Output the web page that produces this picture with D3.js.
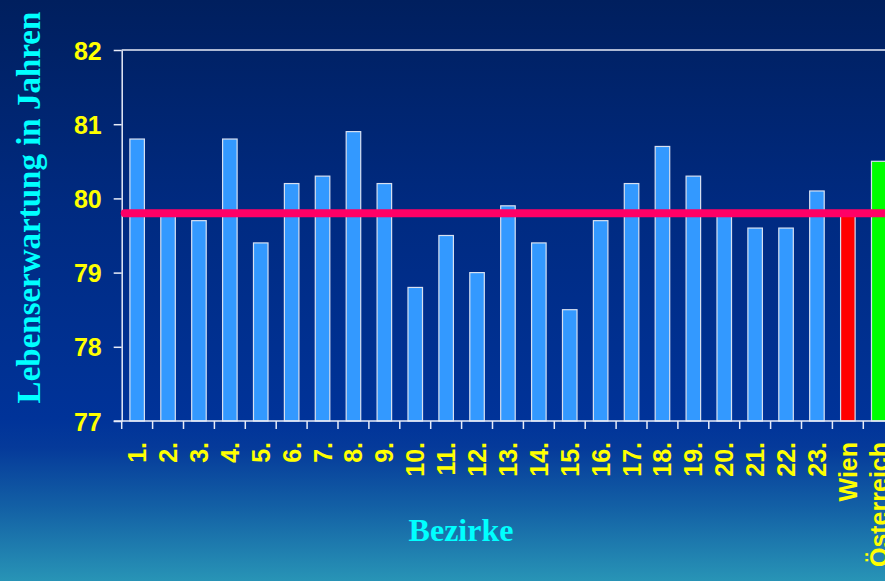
<!DOCTYPE html>
<html>
<head>
<meta charset="utf-8">
<script src="https://cdn.jsdelivr.net/npm/d3@7/dist/d3.min.js"></script>
<style>
html,body{margin:0;padding:0;overflow:hidden;background:#002060;}
svg{display:block;}
</style>
</head>
<body>
<svg id="chart" width="885" height="581"></svg>
<script>
const categories = ["1.","2.","3.","4.","5.","6.","7.","8.","9.","10.","11.","12.","13.","14.","15.","16.","17.","18.","19.","20.","21.","22.","23.","Wien","Österreich"];
const values = [80.8,79.8,79.7,80.8,79.4,80.2,80.3,80.9,80.2,78.8,79.5,79.0,79.9,79.4,78.5,79.7,80.2,80.7,80.3,79.8,79.6,79.6,80.1,79.8,80.5];
const yTicks = [77,78,79,80,81,82];
const referenceValue = 79.8; // Wien
const yTitle = "Lebenserwartung in Jahren";
const xTitle = "Bezirke";

(function(){
const W = 885, H = 581;
const mLeft = 121.7, mTop = 50, mBottom = 421;
const step = 30.9;
const svg = d3.select("#chart");

// background gradient
const defs = svg.append("defs");
const grad = defs.append("linearGradient").attr("id","bg").attr("x1",0).attr("y1",0).attr("x2",0).attr("y2",1);
[[0,"#001f5e"],[0.35,"#002a80"],[0.72,"#003399"],[0.77,"#053a9a"],[0.88,"#1463a6"],[1,"#2894b6"]]
  .forEach(([o,c])=>grad.append("stop").attr("offset",o).attr("stop-color",c));
svg.append("rect").attr("width",W).attr("height",H).attr("fill","url(#bg)");

const x = d3.scaleBand().domain(categories)
  .range([mLeft, mLeft + step*categories.length])
  .paddingInner(0.53).paddingOuter(0.265);
const y = d3.scaleLinear().domain([77,82]).range([mBottom, mTop]);

const axisColor = "#e8ecf8";

// top border line
svg.append("line").attr("x1",mLeft).attr("x2",W).attr("y1",y(82)).attr("y2",y(82))
  .attr("stroke",axisColor).attr("stroke-width",1.5);

// bars
const barColor = (c)=> c==="Wien" ? "#ff0000" : (c==="Österreich" ? "#00ff00" : "#3399ff");
svg.append("g").selectAll("rect").data(categories).join("rect")
  .attr("x", c=>x(c))
  .attr("y", (c,i)=>y(values[i]))
  .attr("width", x.bandwidth())
  .attr("height", (c,i)=>y(77)-y(values[i]))
  .attr("fill", barColor)
  .attr("stroke","#d8e0f0").attr("stroke-width",1.2);

// y axis
const yAxis = svg.append("g").attr("transform",`translate(${mLeft},0)`)
  .call(d3.axisLeft(y).tickValues(yTicks).tickFormat(d3.format("d")).tickSize(8).tickSizeOuter(0).tickPadding(12));
yAxis.select(".domain").attr("stroke",axisColor).attr("stroke-width",1.5);
yAxis.selectAll(".tick line").attr("stroke",axisColor).attr("stroke-width",1.5);
yAxis.selectAll(".tick text").attr("fill","#ffff00")
  .style("font-family","'Liberation Sans', Arial, sans-serif").style("font-weight","bold").style("font-size","25px")
  .attr("dy","0.36em");

// x axis baseline + boundary ticks
svg.append("line").attr("x1",mLeft-8).attr("x2",W).attr("y1",mBottom).attr("y2",mBottom)
  .attr("stroke",axisColor).attr("stroke-width",1.5);
const boundaries = d3.range(categories.length+1).map(i=>x.range()[0] + i*x.step());
svg.append("g").selectAll("line").data(boundaries).join("line")
  .attr("x1",d=>d).attr("x2",d=>d).attr("y1",mBottom).attr("y2",mBottom+8)
  .attr("stroke",axisColor).attr("stroke-width",1.5);

// x labels
svg.append("g").selectAll("text").data(categories).join("text")
  .attr("transform", c=>`translate(${x(c)+x.bandwidth()/2},442) rotate(-90)`)
  .attr("text-anchor","end").attr("dy","0.36em")
  .attr("fill","#ffff00")
  .style("font-family","'Liberation Sans', Arial, sans-serif").style("font-weight","bold").style("font-size","25px")
  .text(c=>c);

// reference line (Wien average)
svg.append("line").attr("x1",mLeft+3).attr("x2",W+10)
  .attr("y1",y(referenceValue)).attr("y2",y(referenceValue))
  .attr("stroke","#ff0066").attr("stroke-width",8).attr("stroke-linecap","round");

// titles
svg.append("text").attr("transform","translate(40,207.5) rotate(-90)")
  .attr("text-anchor","middle").attr("fill","#00ffff")
  .style("font-family","'Liberation Serif', 'Times New Roman', serif").style("font-weight","bold").style("font-size","33px")
  .text(yTitle);
svg.append("text").attr("x",461).attr("y",540.5)
  .attr("text-anchor","middle").attr("fill","#00ffff")
  .style("font-family","'Liberation Serif', 'Times New Roman', serif").style("font-weight","bold").style("font-size","32px")
  .text(xTitle);
})();
</script>
</body>
</html>
